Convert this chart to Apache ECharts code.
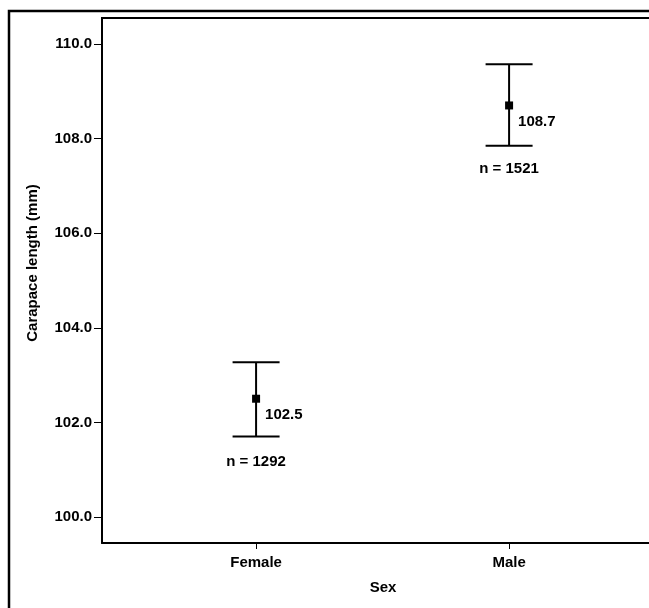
<!DOCTYPE html>
<html>
<head>
<meta charset="utf-8">
<script src="https://cdn.jsdelivr.net/npm/echarts@6/dist/echarts.min.js"></script>
<style>
html,body{margin:0;padding:0;background:#fff;}
#c{width:649px;height:608px;}
</style>
</head>
<body>
<div id="c"></div>
<script>
// Data
var categories = ['Female', 'Male'];
var means = [102.5, 108.7];
var lowerCI = [101.7, 107.85];
var upperCI = [103.27, 109.57];
var counts = [1292, 1521];
var yTicks = [100, 102, 104, 106, 108, 110];
var xTicks = [1, 2];

var FONT = '"Liberation Sans", Arial, sans-serif';

var data = categories.map(function (c, i) {
  return [i + 1, means[i], lowerCI[i], upperCI[i], counts[i]];
});

var chart = echarts.init(document.getElementById('c'));
chart.setOption({
  animation: false,
  backgroundColor: '#fff',
  grid: {
    left: 102, top: 18, right: 0, bottom: 65,
    show: false
  },
  xAxis: {
    type: 'value', min: 0.391, max: 2.553,
    splitLine: { show: false },
    axisLine: { show: true, onZero: false, lineStyle: { color: '#000', width: 2 } },
    axisTick: { show: true, customValues: xTicks, length: 6, lineStyle: { color: '#000', width: 1 } },
    axisLabel: {
      customValues: xTicks, margin: 12,
      fontFamily: FONT, fontWeight: 'bold', fontSize: 15, color: '#000',
      formatter: function (v) { return categories[Math.round(v) - 1] || ''; }
    }
  },
  yAxis: {
    type: 'value', min: 99.45, max: 110.549,
    splitLine: { show: false },
    axisLine: { show: true, onZero: false, lineStyle: { color: '#000', width: 2 } },
    axisTick: { show: true, customValues: yTicks, length: 8, lineStyle: { color: '#000', width: 1 } },
    axisLabel: {
      customValues: yTicks, margin: 10,
      fontFamily: FONT, fontWeight: 'bold', fontSize: 15, color: '#000',
      formatter: function (v) { return Number(v).toFixed(1); }
    }
  },
  graphic: [
    {
      type: 'rect', silent: true, z: 100,
      shape: { x: 9, y: 11, width: 700, height: 700 },
      style: { fill: 'none', stroke: '#000', lineWidth: 2.5 }
    },
    {
      type: 'line', silent: true, z: 100,
      shape: { x1: 101, y1: 18, x2: 700, y2: 18 },
      style: { stroke: '#000', lineWidth: 2 }
    },
    {
      type: 'text', silent: true, z: 100,
      x: 33, y: 263, rotation: Math.PI / 2,
      style: {
        text: 'Carapace length (mm)', fill: '#000',
        font: 'bold 15px ' + FONT, align: 'center', verticalAlign: 'middle'
      }
    },
    {
      type: 'text', silent: true, z: 100,
      x: 383, y: 588,
      style: {
        text: 'Sex', fill: '#000',
        font: 'bold 15px ' + FONT, align: 'center', verticalAlign: 'middle'
      }
    }
  ],
  series: [{
    type: 'custom',
    data: data,
    renderItem: function (params, api) {
      var x = api.value(0);
      var pm = api.coord([x, api.value(1)]);
      var pl = api.coord([x, api.value(2)]);
      var pu = api.coord([x, api.value(3)]);
      var hw = 23.5;
      var ls = { stroke: '#000', lineWidth: 2 };
      return {
        type: 'group',
        children: [
          { type: 'line', shape: { x1: pm[0], y1: pu[1], x2: pm[0], y2: pl[1] }, style: ls },
          { type: 'line', shape: { x1: pm[0] - hw, y1: pu[1], x2: pm[0] + hw, y2: pu[1] }, style: ls },
          { type: 'line', shape: { x1: pm[0] - hw, y1: pl[1], x2: pm[0] + hw, y2: pl[1] }, style: ls },
          { type: 'rect', shape: { x: pm[0] - 4, y: pm[1] - 4, width: 8, height: 8 }, style: { fill: '#000' } },
          { type: 'text', x: pm[0] + 9, y: pm[1] + 16,
            style: { text: api.value(1).toFixed(1), fill: '#000', font: 'bold 15px ' + FONT, align: 'left', verticalAlign: 'middle' } },
          { type: 'text', x: pm[0], y: pm[1] + 63,
            style: { text: 'n = ' + api.value(4), fill: '#000', font: 'bold 15px ' + FONT, align: 'center', verticalAlign: 'middle' } }
        ]
      };
    }
  }]
});
</script>
</body>
</html>
